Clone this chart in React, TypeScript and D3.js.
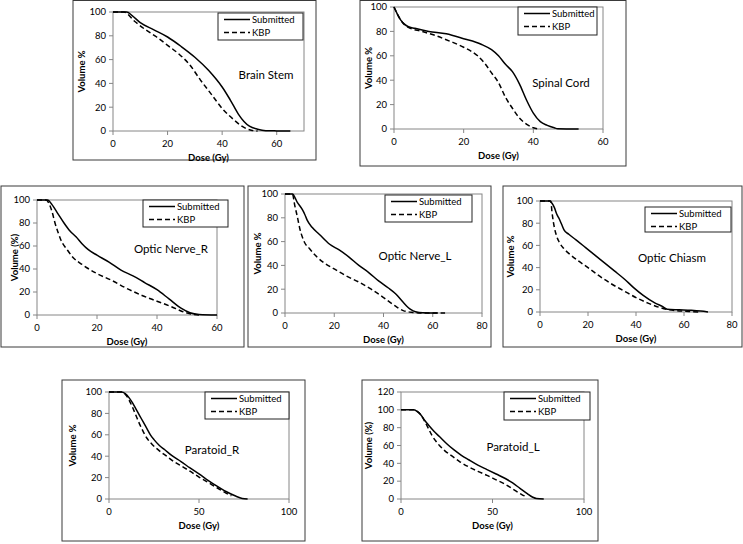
import React from "react";
import * as d3 from "d3";

type Pt = [number, number];

// ---------------- DATA ----------------
const brainStemSubmitted: Pt[] = [[0,100],[5,100],[7,97],[10,91],[15,85],[20,79],[25,71],[30,62],[35,51],[38,43],[40,37],[43,26],[46,14],[48,8],[50,4],[53,1.5],[56,0.3],[60,0.1],[65,0]];
const brainStemKBP: Pt[] = [[0,100],[4,100],[8,92],[12,85],[16,79],[20,72],[24,65],[28,56],[32,43],[36,31],[40,19],[44,10],[48,3],[51,0.5],[53,0]];

const spinalCordSubmitted: Pt[] = [[0,100],[1,94],[2,89],[3,86],[4,84],[6,82.5],[10,80],[15,78],[20,74],[25,69.5],[28,65],[30,60],[32,53],[34,47],[36,37],[38,24],[40,13],[42,6],[44,3],[46,1],[47,0.2],[53,0]];
const spinalCordKBP: Pt[] = [[0,100],[1,94],[2,89],[3,85.5],[4,83.5],[8,80],[12,76.5],[16,72],[20,67],[24,60],[26,54],[28,46],[30,38],[32,26],[34,17],[36,9],[38,4],[40,1],[42,0]];

const opticNerveRSubmitted: Pt[] = [[0,100],[3.5,100],[5,96],[7,88],[9,80],[11,73],[13,68],[15,62],[17,57],[20,52],[24,46],[28,39],[32,34],[36,28],[40,22],[44,14],[48,6],[51,2],[54,0.5],[60,0]];
const opticNerveRKBP: Pt[] = [[0,100],[3,100],[4,97],[5,90],[6,80],[7,72],[8,65],[10,57],[12,50],[15,44],[20,36],[25,30],[30,23],[35,17],[40,12],[45,7],[48,3.5],[51,1],[54,0]];

const opticNerveLSubmitted: Pt[] = [[0,100],[3,100],[5,93],[7,87],[8,83],[9,78],[11,72],[14,66],[18,58],[22,53],[26,47],[30,40],[34,34],[38,27],[42,21],[45,16],[48,9],[51,3],[53,1],[56,0.2],[62,0]];
const opticNerveLKBP: Pt[] = [[0,100],[3,100],[4,90],[5,81],[6,71],[7,64],[8,59],[10,54],[13,47],[16,42],[20,37],[25,31],[30,26],[35,20],[40,13],[44,7],[48,2],[52,0.5],[55,0],[65,0]];

const opticChiasmSubmitted: Pt[] = [[0,100],[4,100],[5,98],[6,94],[7,88],[8,84],[9,79],[10,74],[12,70],[15,65],[19,58],[23,51],[27,44],[31,37],[35,30],[39,22],[43,15],[48,8],[51,5],[53,2.5],[58,2],[63,1.5],[67,0.8],[70,0]];
const opticChiasmKBP: Pt[] = [[0,100],[4.5,100],[5,90],[5.5,82],[6,76],[7,68],[8,63],[10,57],[13,51],[16,46],[20,40],[25,32],[30,25],[35,19],[40,13],[45,8],[50,4],[54,2],[58,1],[62,0.5],[66,0]];

const paratoidRSubmitted: Pt[] = [[0,100],[7,100],[9,98.5],[11,95],[13,90],[15,84],[17,78],[19,72],[21,66],[23,60],[25,55.5],[28,50],[31,46],[35,40.5],[40,35],[45,29],[50,23.5],[55,17.5],[60,12],[65,7],[70,3],[74,0.5],[77,0]];
const paratoidRKBP: Pt[] = [[0,100],[7,100],[9,98],[11,93],[13,86],[15,78],[17,70],[19,63],[21,57],[24,51],[28,45],[32,40],[36,35],[40,31],[45,26],[50,20.5],[55,15.5],[60,10.5],[65,5.5],[68,3]];

const paratoidLSubmitted: Pt[] = [[0,100],[7,100],[9,98],[11,94],[13,88],[15,83],[18,76],[21,70],[25,62],[29,55],[33,49],[37,44],[42,38],[47,33],[52,28],[57,23],[61,18],[65,12],[69,6],[72,2],[74,0.5],[78,0]];
const paratoidLKBP: Pt[] = [[0,100],[7,100],[9,98],[11,94],[13,87],[15,79],[17,71],[19,65],[21,60],[24,54],[28,48],[32,42],[37,36],[42,31],[47,26.5],[52,21.5],[57,16.5],[62,10],[66,5],[68,3]];

const seriesNames = ["Submitted", "KBP"];
const xTicks60 = [0, 20, 40, 60];
const xTicks80 = [0, 20, 40, 60, 80];
const xTicks100 = [0, 50, 100];
const yTicks100 = [0, 20, 40, 60, 80, 100];
const yTicks120 = [0, 20, 40, 60, 80, 100, 120];

// ---------------- LAYOUT ----------------
interface Panel {
  title: string;
  sub: Pt[];
  kbp: Pt[];
  box: number[];
  plot: number[];
  xMax: number;
  xTicks: number[];
  yMax: number;
  yTicks: number[];
  yLabel: string;
  yLabelX: number;
  legend: number[];
  label: number[];
}

const panels: Panel[] = [
  { title: "Brain Stem", sub: brainStemSubmitted, kbp: brainStemKBP, box: [73, 0.5, 316, 160], plot: [113, 12, 304, 131], xMax: 70, xTicks: xTicks60, yMax: 100, yTicks: yTicks100, yLabel: "Volume %", yLabelX: 82, legend: [218, 13, 303, 40], label: [266, 75] },
  { title: "Spinal Cord", sub: spinalCordSubmitted, kbp: spinalCordKBP, box: [360, 0.5, 626, 166], plot: [394, 7, 603, 129], xMax: 60, xTicks: xTicks60, yMax: 100, yTicks: yTicks100, yLabel: "Volume %", yLabelX: 369, legend: [518, 7, 597, 35], label: [561, 83] },
  { title: "Optic Nerve_R", sub: opticNerveRSubmitted, kbp: opticNerveRKBP, box: [1, 186, 244, 347], plot: [37, 200, 217, 315], xMax: 60, xTicks: xTicks60, yMax: 100, yTicks: yTicks100, yLabel: "Volume (%)", yLabelX: 15, legend: [143, 200, 228, 227], label: [171, 249] },
  { title: "Optic Nerve_L", sub: opticNerveLSubmitted, kbp: opticNerveLKBP, box: [248, 186, 491, 347], plot: [285, 194, 482, 313], xMax: 80, xTicks: xTicks80, yMax: 100, yTicks: yTicks100, yLabel: "Volume %", yLabelX: 258, legend: [385, 195, 472, 222], label: [415, 256] },
  { title: "Optic Chiasm", sub: opticChiasmSubmitted, kbp: opticChiasmKBP, box: [503, 186, 742, 347], plot: [540, 201, 732, 312], xMax: 80, xTicks: xTicks80, yMax: 100, yTicks: yTicks100, yLabel: "Volume %", yLabelX: 511, legend: [645, 207, 731, 232], label: [672, 258] },
  { title: "Paratoid_R", sub: paratoidRSubmitted, kbp: paratoidRKBP, box: [62, 380, 305, 541], plot: [109, 392, 289, 499], xMax: 100, xTicks: xTicks100, yMax: 100, yTicks: yTicks100, yLabel: "Volume %", yLabelX: 73, legend: [205, 392, 289, 419], label: [212, 450] },
  { title: "Paratoid_L", sub: paratoidLSubmitted, kbp: paratoidLKBP, box: [362, 380, 598, 541], plot: [401, 392, 584, 499], xMax: 100, xTicks: xTicks100, yMax: 120, yTicks: yTicks120, yLabel: "Volume (%)", yLabelX: 369, legend: [504, 392, 590, 420], label: [513, 447] },
];

const FONT = "Lato, 'Open Sans', 'Liberation Sans', sans-serif";
const AXIS = "#868686";

function ChartPanel({ p }: { p: Panel }) {
  const [pl, pt, pr, pb] = p.plot;
  const x = d3.scaleLinear().domain([0, p.xMax]).range([pl, pr]);
  const y = d3.scaleLinear().domain([0, p.yMax]).range([pb, pt]);
  const line = d3.line<Pt>().x((d) => x(d[0])).y((d) => y(d[1])).curve(d3.curveMonotoneX);
  const [bl, bt, br, bb] = p.box;
  const [ll, lt, lr, lb] = p.legend;
  const row1 = lt + 6.5;
  const row2 = lt + 19.5;
  return (
    <g>
      <rect x={bl} y={bt} width={br - bl} height={bb - bt} fill="#fff" stroke="#3a3a3a" strokeWidth={1} />
      <rect x={pl} y={pt} width={pr - pl} height={pb - pt} fill="none" stroke={AXIS} strokeWidth={1} />
      {p.yTicks.map((t) => (
        <g key={"y" + t}>
          <line x1={pl - 4} x2={pl} y1={y(t)} y2={y(t)} stroke={AXIS} />
          <text x={pl - 7} y={y(t)} dy="0.35em" textAnchor="end" fontSize={9.5} fontFamily={FONT} fill="#000">{t}</text>
        </g>
      ))}
      {p.xTicks.map((t) => (
        <g key={"x" + t}>
          <line x1={x(t)} x2={x(t)} y1={pb} y2={pb + 4} stroke={AXIS} />
          <text x={x(t)} y={pb + 13} dy="0.35em" textAnchor="middle" fontSize={9.5} fontFamily={FONT} fill="#000">{t}</text>
        </g>
      ))}
      <path d={line(p.sub) || ""} fill="none" stroke="#000" strokeWidth={1.5} />
      <path d={line(p.kbp) || ""} fill="none" stroke="#000" strokeWidth={1.5} strokeDasharray="5,3" />
      <rect x={ll} y={lt} width={lr - ll} height={lb - lt} fill="#fff" stroke="#222" strokeWidth={1} />
      <line x1={ll + 6} x2={ll + 32} y1={row1} y2={row1} stroke="#000" strokeWidth={1.5} />
      <text x={ll + 34} y={row1} dy="0.35em" fontSize={9.5} fontFamily={FONT}>{seriesNames[0]}</text>
      <line x1={ll + 6} x2={ll + 32} y1={row2} y2={row2} stroke="#000" strokeWidth={1.5} strokeDasharray="5,3" />
      <text x={ll + 34} y={row2} dy="0.35em" fontSize={9.5} fontFamily={FONT}>{seriesNames[1]}</text>
      <text x={p.label[0]} y={p.label[1]} dy="0.35em" textAnchor="middle" fontSize={11.5} fontFamily={FONT}>{p.title}</text>
      <text transform={`translate(${p.yLabelX},${(pt + pb) / 2}) rotate(-90)`} dy="0.35em" textAnchor="middle" fontSize={9.5} fontWeight="bold" fontFamily={FONT}>{p.yLabel}</text>
      <text x={(pl + pr) / 2} y={pb + 27} dy="0.35em" textAnchor="middle" fontSize={9.5} fontWeight="bold" fontFamily={FONT}>Dose (Gy)</text>
    </g>
  );
}

export default function App() {
  return (
    <svg width={743} height={544} style={{ position: "absolute", left: 0, top: 0, background: "#fff" }}>
      <rect x={0} y={0} width={743} height={544} fill="#fff" />
      {panels.map((p) => (
        <ChartPanel key={p.title} p={p} />
      ))}
    </svg>
  );
}
